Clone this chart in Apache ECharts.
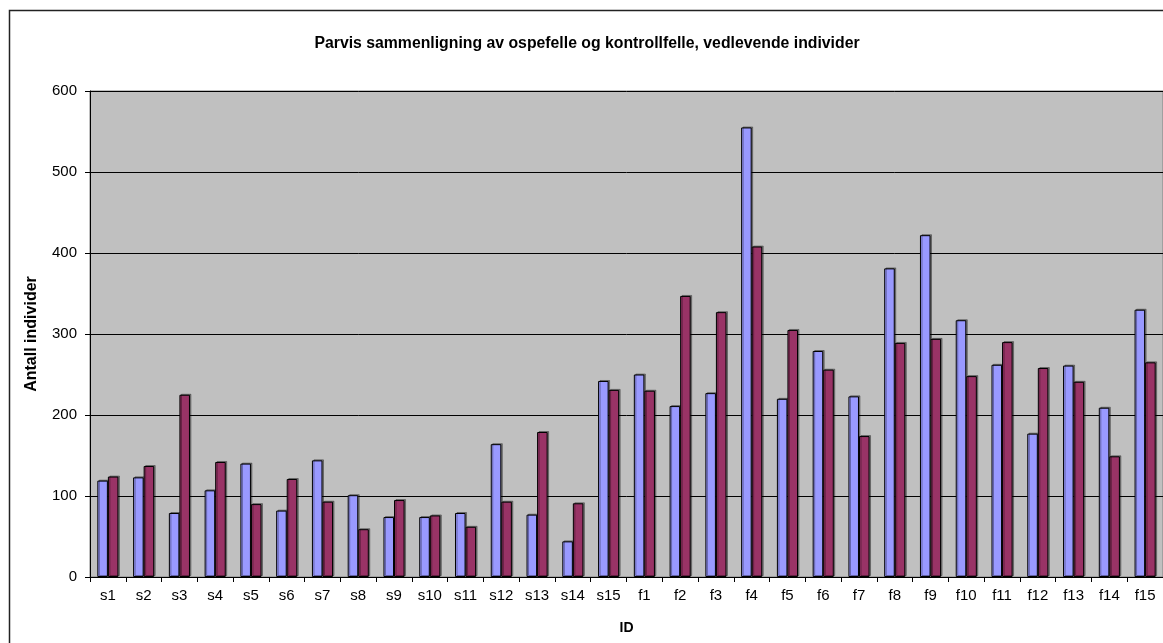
<!DOCTYPE html>
<html>
<head>
<meta charset="utf-8">
<script src="https://cdn.jsdelivr.net/npm/echarts@6/dist/echarts.min.js"></script>
<style>
  html, body { margin: 0; padding: 0; background: #fff; }
  #chart { width: 1163px; height: 643px; }
</style>
</head>
<body>
<div id="chart"></div>
<script>
// kategorier (felle-ID)
const ids = ['s1', 's2', 's3', 's4', 's5', 's6', 's7', 's8', 's9', 's10', 's11', 's12', 's13', 's14', 's15',
  'f1', 'f2', 'f3', 'f4', 'f5', 'f6', 'f7', 'f8', 'f9', 'f10', 'f11', 'f12', 'f13', 'f14', 'f15'];
// ospefelle (blå)
const ospefelle = [119, 123, 79, 107, 140, 82, 144, 101, 74, 74, 79, 164, 77, 44, 242,
  250, 211, 227, 555, 220, 279, 223, 381, 422, 317, 262, 177, 261, 209, 330];
// kontrollfelle (rød)
const kontrollfelle = [124, 137, 225, 142, 90, 121, 93, 59, 95, 76, 62, 93, 179, 91, 231,
  230, 347, 327, 408, 305, 256, 174, 289, 294, 248, 290, 258, 241, 149, 265];
const yTicks = [0, 100, 200, 300, 400, 500, 600];

const chart = echarts.init(document.getElementById('chart'));

// søylestil: fylt farge, svart kant, litt skygge
const barStyle = (color) => ({
  color: color,
  borderColor: '#000',
  borderWidth: 1,
  shadowColor: 'rgba(0,0,0,0.35)',
  shadowOffsetX: 1.5,
  shadowOffsetY: -1
});

chart.setOption({
  animation: false,
  backgroundColor: '#fff',
  textStyle: { fontFamily: 'Liberation Sans, Arial, sans-serif' },
  title: {
    text: 'Parvis sammenligning av ospefelle og kontrollfelle, vedlevende individer',
    left: 582,
    textAlign: 'center',
    top: 31,
    textStyle: { fontSize: 15.8, fontWeight: 'bold', color: '#000' }
  },
  graphic: [
    {
      type: 'rect',
      shape: { x: 9.5, y: 10.5, width: 1200, height: 700 },
      style: { fill: 'none', stroke: '#222', lineWidth: 1.5 },
      silent: true
    }
  ],
  grid: {
    left: 90,
    top: 91,
    width: 1075,
    height: 486,
    show: true,
    backgroundColor: '#C0C0C0',
    borderColor: '#808080',
    borderWidth: 1
  },
  xAxis: {
    type: 'category',
    data: ids,
    name: 'ID',
    nameLocation: 'middle',
    nameGap: 44,
    nameTextStyle: { fontSize: 14, fontWeight: 'bold', color: '#000' },
    axisLine: { lineStyle: { color: '#000', width: 1 } },
    axisTick: { show: true, length: 5, lineStyle: { color: '#000' } },
    axisLabel: { fontSize: 15, color: '#000', margin: 11, interval: 0 }
  },
  yAxis: {
    type: 'value',
    min: 0,
    max: yTicks[yTicks.length - 1],
    interval: 100,
    name: 'Antall individer',
    nameLocation: 'middle',
    nameGap: 50,
    nameTextStyle: { fontSize: 16, fontWeight: 'bold', color: '#000' },
    axisLine: { show: true, lineStyle: { color: '#000', width: 1 } },
    axisTick: { show: true, length: 5, lineStyle: { color: '#000' } },
    axisLabel: { fontSize: 15, color: '#000', margin: 13 },
    splitLine: { show: true, lineStyle: { color: '#000', width: 1 } }
  },
  series: [
    {
      name: 'Ospefelle',
      type: 'bar',
      data: ospefelle,
      barGap: '0%',
      barCategoryGap: '41%',
      itemStyle: barStyle('#9999FF')
    },
    {
      name: 'Kontrollfelle',
      type: 'bar',
      data: kontrollfelle,
      barGap: '0%',
      barCategoryGap: '41%',
      itemStyle: barStyle('#993366')
    }
  ]
});
</script>
</body>
</html>
